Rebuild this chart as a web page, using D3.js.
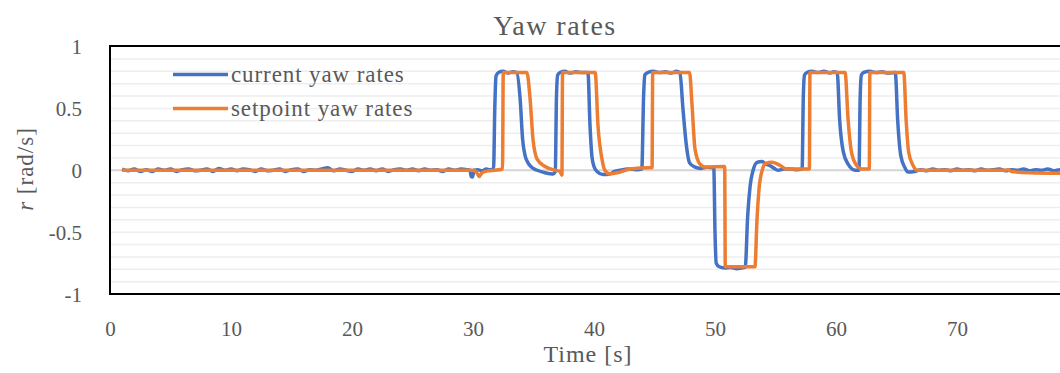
<!DOCTYPE html>
<html>
<head>
<meta charset="utf-8">
<script src="https://cdn.jsdelivr.net/npm/d3@7"></script>
<style>
  body { margin: 0; background: #fff; }
  svg text { font-family: "Liberation Serif", "DejaVu Serif", serif; fill: #595959; }
</style>
</head>
<body>
<svg id="chart" width="1060" height="373"></svg>
<script>
// data: [time s, yaw rate rad/s]
const currentYaw = [
  [1.0,0.01],[1.5,-0.005],[2.0,0.01],[2.5,-0.01],[3.0,0.005],[3.5,-0.01],[4.0,0.01],[4.5,0.0],[5.0,0.01],[5.5,-0.01],
  [6.0,0.005],[6.5,0.01],[7.0,-0.005],[7.5,0.0],[8.0,0.01],[8.5,-0.01],[9.0,0.015],[9.5,0.0],[10.0,0.01],[10.5,-0.005],
  [11.0,0.01],[11.5,0.005],[12.0,-0.01],[12.5,0.01],[13.0,-0.005],[13.5,0.0],[14.0,0.01],[14.5,-0.01],[15.0,0.005],[15.5,0.01],
  [16.0,-0.01],[16.5,0.005],[17.0,0.0],[17.5,0.01],[18.0,0.02],[18.5,-0.005],[19.0,0.01],[19.5,0.0],[20.0,-0.01],[20.5,0.01],
  [21.0,0.0],[21.5,0.01],[22.0,-0.005],[22.5,0.01],[23.0,-0.01],[23.5,0.005],[24.0,0.01],[24.5,0.0],[25.0,0.01],[25.5,-0.005],
  [26.0,0.01],[26.5,0.0],[27.0,0.005],[27.5,-0.01],[28.0,0.01],[28.5,0.0],[29.0,0.01],[29.5,0.005],
  [29.75,0.0],[29.85,-0.05],[29.95,-0.055],[30.1,0.0],[30.4,0.005],[30.75,-0.005],[31.1,0.01],[31.4,0.005],[31.7,0.01],
  [31.8,0.5],[31.9,0.76],[32.1,0.79],[32.5,0.8],[32.9,0.785],[33.3,0.795],[33.6,0.79],
  [33.9,0.57],[34.1,0.25],[34.3,0.12],[34.55,0.06],[34.9,0.02],[35.3,0.0],[35.95,-0.02],[36.6,-0.03],[36.8,-0.01],
  [36.9,0.6],[37.0,0.77],[37.2,0.79],[37.6,0.8],[38.0,0.785],[38.5,0.795],[39.0,0.79],[39.5,0.79],
  [39.67,0.36],[39.83,0.11],[40.0,0.03],[40.25,-0.01],[40.75,-0.035],[41.3,-0.03],[41.7,-0.01],[42.15,0.0],[42.8,0.01],[43.5,0.005],[43.95,0.01],
  [44.1,0.6],[44.2,0.77],[44.45,0.79],[44.9,0.8],[45.4,0.79],[45.9,0.795],[46.4,0.785],[46.8,0.8],[47.1,0.79],
  [47.35,0.5],[47.6,0.23],[47.9,0.06],[48.35,0.025],[48.8,0.015],[49.3,0.025],[49.9,0.02],
  [50.0,-0.5],[50.1,-0.75],[50.35,-0.78],[50.8,-0.79],[51.3,-0.785],[51.8,-0.795],[52.2,-0.79],[52.5,-0.785],
  [52.7,-0.37],[52.9,-0.13],[53.15,0.0],[53.5,0.065],[53.9,0.07],[54.2,0.05],[54.5,0.04],[54.9,0.015],[55.2,0.0],[55.7,0.01],[56.2,0.01],[56.7,0.005],[57.2,0.01],
  [57.3,0.6],[57.4,0.77],[57.6,0.79],[58.0,0.8],[58.5,0.79],[59.0,0.8],[59.5,0.785],[59.8,0.795],[60.1,0.79],
  [60.3,0.41],[60.6,0.15],[61.0,0.05],[61.6,0.0],[61.9,0.0],
  [62.0,0.6],[62.1,0.77],[62.3,0.79],[62.8,0.8],[63.3,0.79],[63.8,0.795],[64.3,0.785],[64.9,0.79],
  [65.1,0.4],[65.35,0.12],[65.7,0.02],[65.95,-0.015],[66.5,-0.01],[67.0,0.005],[67.5,-0.005],[68.0,0.01],[68.5,0.0],
  [69.0,0.005],[69.5,-0.005],[70.0,0.01],[70.5,0.0],[71.0,0.005],[71.5,-0.005],[72.0,0.01],[72.5,0.0],[73.0,0.005],
  [73.5,0.01],[74.0,-0.005],[74.5,0.005],[75.0,0.0],[75.5,0.01],[76.0,-0.005],[76.5,0.005],[77.0,0.0],[77.5,0.01],
  [78.0,-0.005],[78.5,0.005],[79.0,0.0],[79.5,0.005]
];

const setpointYaw = [
  [1.0,0.0],[29.9,0.0],[30.25,-0.01],[30.5,-0.05],[30.75,-0.02],[31.2,-0.005],[31.8,0.0],[32.44,0.01],
  [32.5,0.79],[34.45,0.79],
  [34.7,0.6],[34.96,0.25],[35.3,0.09],[35.95,0.03],[36.8,0.0],[37.2,-0.01],[37.35,-0.04],
  [37.4,0.79],[40.1,0.79],
  [40.33,0.36],[40.66,0.09],[40.9,0.0],[41.3,-0.03],[42.15,-0.015],[43.0,0.01],[44.6,0.02],[44.8,0.02],
  [44.85,0.79],[47.9,0.79],
  [48.1,0.53],[48.35,0.17],[48.76,0.05],[49.2,0.025],[50.7,0.03],[50.8,0.03],
  [50.85,-0.78],[53.3,-0.78],
  [53.47,-0.4],[53.64,-0.15],[53.9,0.0],[54.2,0.055],[54.7,0.065],[55.37,0.04],[55.87,0.01],[56.6,0.01],[57.8,0.01],
  [57.85,0.79],[60.75,0.79],
  [61.0,0.41],[61.24,0.17],[61.57,0.06],[62.15,0.01],[62.75,0.01],
  [62.8,0.79],[65.6,0.79],
  [65.8,0.4],[66.0,0.15],[66.36,0.04],[66.7,0.0],[74.0,0.0],[74.2,0.005],[74.5,-0.01],[76.0,-0.02],[79.5,-0.025]
];

const seriesNames = ['current yaw rates', 'setpoint yaw rates'];
const seriesColors = ['#4472C4', '#ED7D31'];
const yTicks = [-1, -0.5, 0, 0.5, 1];
const yGrid = [-0.9, -0.8, -0.7, -0.6, -0.5, -0.4, -0.3, -0.2, -0.1, 0.1, 0.2, 0.3, 0.4, 0.5, 0.6, 0.7, 0.8, 0.9];
const xTicks = [0, 10, 20, 30, 40, 50, 60, 70];

const svg = d3.select('#chart');
const width = +svg.attr('width');

const margin = { top: 46.5, left: 110, bottom: 294 };

const x = d3.scaleLinear().domain([0, 80]).range([margin.left, margin.left + 80 * 12.1]);
const y = d3.scaleLinear().domain([-1, 1]).range([margin.bottom, margin.top]);

// minor gridlines
svg.append('g').selectAll('line')
    .data(yGrid)
    .join('line')
    .attr('x1', margin.left).attr('x2', width)
    .attr('y1', d => y(d)).attr('y2', d => y(d))
    .attr('stroke', '#eeeeee')
    .attr('stroke-width', 1.5);

// zero line
svg.append('line')
    .attr('x1', margin.left).attr('x2', width)
    .attr('y1', y(0)).attr('y2', y(0))
    .attr('stroke', '#d4d4d4')
    .attr('stroke-width', 2);

// axes (labels only)
const yAxisG = svg.append('g')
    .attr('transform', `translate(${margin.left},0)`)
    .call(d3.axisLeft(y).tickValues(yTicks).tickSize(0).tickPadding(28).tickFormat(d => String(d)));
yAxisG.select('.domain').remove();
yAxisG.attr('font-family', null);
yAxisG.selectAll('text').style('font-size', '21px').attr('dy', '0.34em');

const xAxisG = svg.append('g')
    .attr('transform', `translate(0,${margin.bottom})`)
    .call(d3.axisBottom(x).tickValues(xTicks).tickSize(0).tickPadding(27).tickFormat(d => String(d)));
xAxisG.select('.domain').remove();
xAxisG.attr('font-family', null);
xAxisG.selectAll('text').style('font-size', '21px');

// lines
const line = d3.line()
    .x(d => x(d[0]))
    .y(d => y(d[1]))
    .curve(d3.curveMonotoneX);

[currentYaw, setpointYaw].forEach((data, i) => {
    svg.append('path')
        .datum(data)
        .attr('fill', 'none')
        .attr('stroke', seriesColors[i])
        .attr('stroke-width', 3.5)
        .attr('stroke-linejoin', 'round')
        .attr('d', line);
});

// plot frame (right side runs past the picture)
svg.append('rect')
    .attr('x', margin.left)
    .attr('y', margin.top - 0.5)
    .attr('width', 1000)
    .attr('height', margin.bottom - margin.top + 0.5)
    .attr('fill', 'none')
    .attr('stroke', '#000')
    .attr('stroke-width', 2);

// legend
const legend = svg.append('g');
seriesNames.forEach((name, i) => {
    const ly = 74.5 + i * 34;
    legend.append('line')
        .attr('x1', 173).attr('x2', 228)
        .attr('y1', ly).attr('y2', ly)
        .attr('stroke', seriesColors[i])
        .attr('stroke-width', 3.5);
    legend.append('text')
        .attr('x', 231)
        .attr('y', ly + 7.5)
        .style('font-size', '23px')
        .style('letter-spacing', '0.9px')
        .text(name);
});

// title and axis labels
svg.append('text')
    .attr('x', 555)
    .attr('y', 35)
    .attr('text-anchor', 'middle')
    .style('font-size', '28px')
    .style('letter-spacing', '1.5px')
    .text('Yaw rates');

svg.append('text')
    .attr('x', 588)
    .attr('y', 362)
    .attr('text-anchor', 'middle')
    .style('font-size', '24px')
    .style('letter-spacing', '1px')
    .text('Time [s]');

const yLabel = svg.append('text')
    .attr('transform', 'translate(33,169) rotate(-90)')
    .attr('text-anchor', 'middle')
    .style('font-size', '23px')
    .style('letter-spacing', '1px');
yLabel.append('tspan').style('font-style', 'italic').text('r');
yLabel.append('tspan').text(' [rad/s]');
</script>
</body>
</html>
